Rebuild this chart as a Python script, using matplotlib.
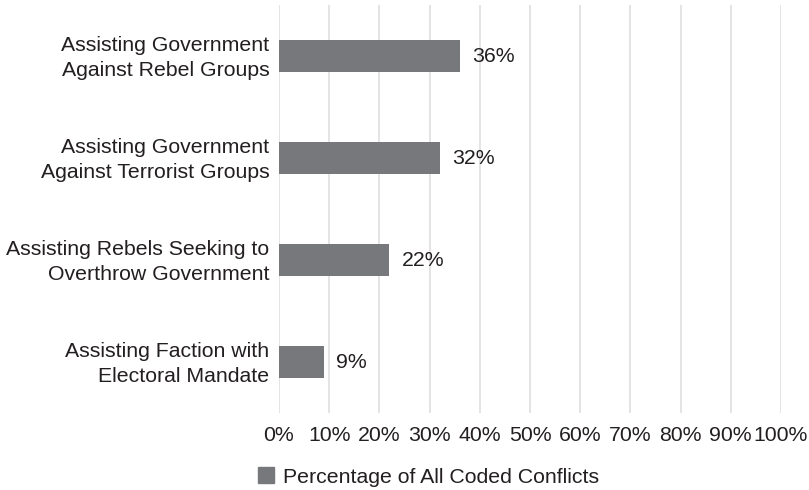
import numpy as np
import matplotlib.pyplot as plt
import matplotlib.transforms as mtransforms
from matplotlib.ticker import FuncFormatter
from matplotlib.patches import Patch

plt.rcParams['font.family'] = ['Liberation Sans', 'DejaVu Sans']

categories = [
    "Assisting Government\nAgainst Rebel Groups",
    "Assisting Government\nAgainst Terrorist Groups",
    "Assisting Rebels Seeking to\nOverthrow Government",
    "Assisting Faction with\nElectoral Mandate",
]
values = [36, 32, 22, 9]
value_labels = ["36%", "32%", "22%", "9%"]
series_name = "Percentage of All Coded Conflicts"

bar_color = "#77787b"
grid_color = "#dcdcdc"
text_color = "#231f20"
fs = 15.3

fig = plt.figure(figsize=(8.09, 4.90), dpi=100)
ax = fig.add_axes([279 / 809, 1 - 413 / 490, (781 - 279) / 809, 408 / 490])

y = np.arange(len(categories))
ax.barh(y, values, height=0.31, color=bar_color, zorder=2)
for yi, v, lab in zip(y, values, value_labels):
    ax.text(v + 2.4, yi, lab, va="center", ha="left", fontsize=fs, color=text_color, zorder=3)

ax.set_xlim(0, 100)
ax.set_ylim(len(categories) - 0.5, -0.5)
ax.set_xticks(np.arange(0, 101, 10))
ax.xaxis.set_major_formatter(FuncFormatter(lambda x, p: f"{int(x)}%"))
ax.set_yticks(y)
ax.set_yticklabels(categories, linespacing=1.42)
ax.tick_params(axis="x", length=0, pad=9, labelsize=fs, colors=text_color)
ax.tick_params(axis="y", length=0, pad=7, labelsize=fs, colors=text_color)
# nudge the two-line category labels up a little
shift = mtransforms.ScaledTranslation(0, 3 / 100, fig.dpi_scale_trans)
for t in ax.get_yticklabels():
    t.set_transform(t.get_transform() + shift)
ax.grid(axis="x", color=grid_color, linewidth=1.1, zorder=0)
for s in ax.spines.values():
    s.set_visible(False)

fig.legend(handles=[Patch(color=bar_color, label=series_name)],
           loc="center left", bbox_to_anchor=(239 / 809, 1 - 477 / 490),
           frameon=False, fontsize=fs, handlelength=0.75, handleheight=0.75,
           handletextpad=0.4, labelcolor=text_color)

fig.savefig("out.png", dpi=100)
